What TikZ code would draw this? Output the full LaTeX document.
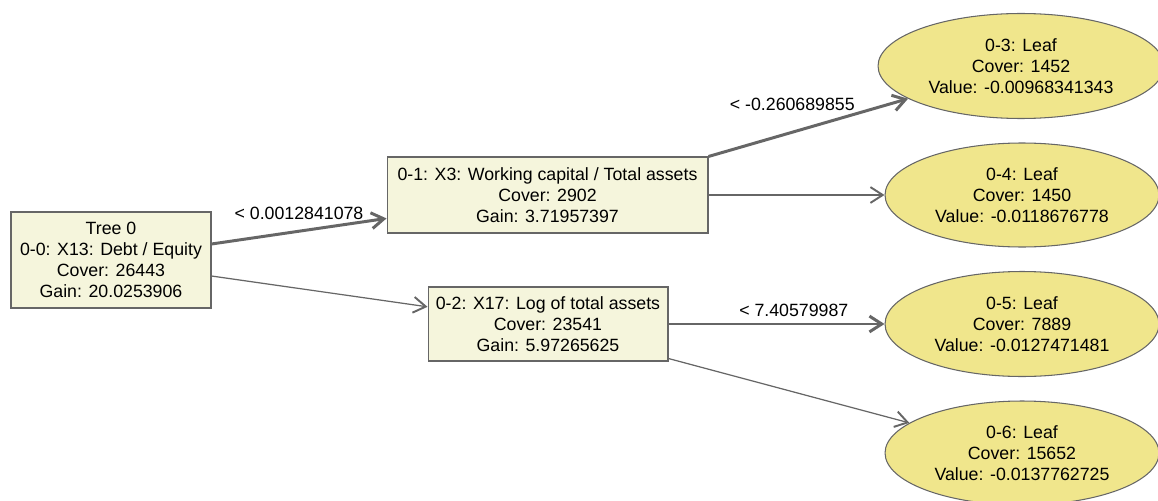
\documentclass[tikz,border=0pt]{standalone}
\usepackage{fontspec}
\setmainfont{Liberation Sans}
\usetikzlibrary{positioning, arrows.meta, shapes.geometric}
\definecolor{splitfill}{HTML}{F5F5DC}
\definecolor{leaffill}{HTML}{F0E68C}
\definecolor{edgegray}{HTML}{666666}

\tikzset{
  treefont/.style={font=\fontsize{10.1}{11.9}\selectfont},
  splitbox/.style={treefont, fill=splitfill, draw=edgegray, line width=0.6pt, align=center, inner sep=0pt},
  leafnode/.style={treefont, ellipse, fill=leaffill, draw=edgegray, line width=0.6pt, align=center, inner sep=0pt},
  yesedge/.style={draw=edgegray, line width=1.7pt, -{Straight Barb[length=7pt, width=9pt]}},
  noedge/.style={draw=edgegray, line width=0.7pt, -{Straight Barb[length=7pt, width=9pt, line width=1.1pt]}},
  cond/.style={treefont, text=black}
}

\begin{document}
\begin{tikzpicture}[x=0.02cm, y=-0.02cm]
    \useasboundingbox (0,0) rectangle (1158,500);

    % split nodes
    \node[splitbox, minimum width=4cm, minimum height=1.92cm] (root) at (111,260)
      {Tree 0\\0-0: X13: Debt / Equity\\Cover: 26443\\Gain: 20.0253906};
    \node[splitbox, minimum width=6.42cm, minimum height=1.52cm] (n1) at (547.5,195)
      {0-1: X3: Working capital / Total assets\\Cover: 2902\\Gain: 3.71957397};
    \node[splitbox, minimum width=4.8cm, minimum height=1.48cm] (n2) at (548,324)
      {0-2: X17: Log of total assets\\Cover: 23541\\Gain: 5.97265625};

    % leaves
    \node[leafnode, minimum width=5.72cm, minimum height=2.1cm] (l3) at (1021,66)
      {0-3: Leaf\\Cover: 1452\\Value: -0.00968341343};
    \node[leafnode, minimum width=5.48cm, minimum height=2.08cm] (l4) at (1022,195)
      {0-4: Leaf\\Cover: 1450\\Value: -0.0118676778};
    \node[leafnode, minimum width=5.48cm, minimum height=2.1cm] (l5) at (1022,324)
      {0-5: Leaf\\Cover: 7889\\Value: -0.0127471481};
    \node[leafnode, minimum width=5.48cm, minimum height=2.08cm] (l6) at (1022,453)
      {0-6: Leaf\\Cover: 15652\\Value: -0.0137762725};

    % edges
    \draw[yesedge] ([yshift=0.32cm]root.east) -- (n1)
      node[cond, midway, above=2.5pt] {< 0.0012841078};
    \draw[noedge] ([yshift=-0.32cm]root.east) -- (n2);
    \draw[yesedge] (n1.north east) -- (l3)
      node[cond, pos=0.42, above=8pt] {< -0.260689855};
    \draw[noedge] (n1.east) -- (l4);
    \draw[yesedge] (n2.east) -- (l5)
      node[cond, pos=0.58, above=0pt] {< 7.40579987};
    \draw[noedge] ([yshift=0.06cm]n2.south east) -- (l6);
\end{tikzpicture}
\end{document}
